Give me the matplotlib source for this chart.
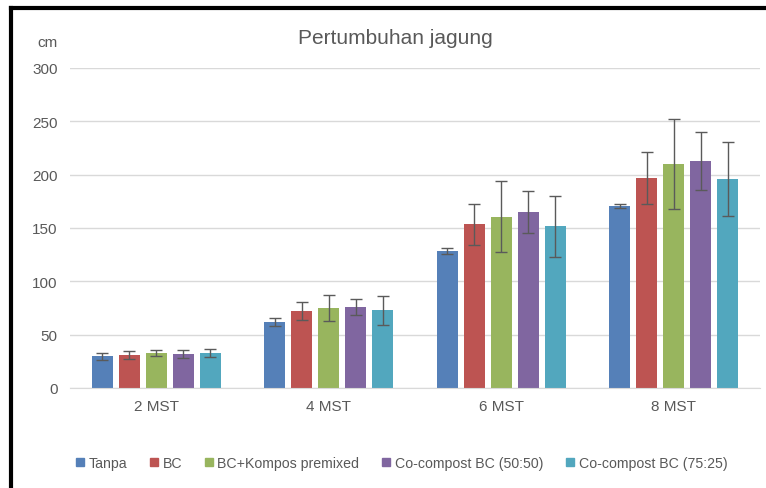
import matplotlib
matplotlib.use("Agg")
import matplotlib.pyplot as plt
import numpy as np
from matplotlib.lines import Line2D

plt.rcParams['font.family'] = ['Liberation Sans', 'DejaVu Sans']

categories = ["2 MST", "4 MST", "6 MST", "8 MST"]
series_names = ["Tanpa", "BC", "BC+Kompos premixed", "Co-compost BC (50:50)", "Co-compost BC (75:25)"]
tanpa = [29.6, 61.9, 128.1, 170.6]
bc = [30.6, 71.9, 153.4, 196.9]
bc_kompos = [32.8, 74.7, 160.6, 210.0]
cocomp_5050 = [31.9, 75.9, 164.7, 213.1]
cocomp_7525 = [32.8, 72.8, 151.5, 195.9]
err_tanpa = [3.3, 3.4, 2.8, 2.2]
err_bc = [3.7, 8.4, 19.2, 24.4]
err_bc_kompos = [3.0, 12.2, 33.3, 42.3]
err_5050 = [3.8, 7.3, 19.8, 27.2]
err_7525 = [4.2, 13.6, 28.6, 34.9]
yticks = [0, 50, 100, 150, 200, 250, 300]

values = [tanpa, bc, bc_kompos, cocomp_5050, cocomp_7525]
errors = [err_tanpa, err_bc, err_bc_kompos, err_5050, err_7525]
colors = ["#5580B8", "#BD5452", "#98B55E", "#8066A0", "#52A7BE"]

fig = plt.figure(figsize=(7.66, 4.89), dpi=100)
ax = fig.add_axes([70/766, 1 - 389/489, (760 - 70)/766, 320/489])

x = np.arange(len(categories))
step = 0.156
width = 0.122
for i, (vals, errs, c, name) in enumerate(zip(values, errors, colors, series_names)):
    pos = x + (i - 2) * step
    ax.bar(pos, vals, width=width, color=c, label=name, zorder=2)
    ax.errorbar(pos, vals, yerr=errs, fmt='none', ecolor='#5a5a5a', elinewidth=1.0,
                capsize=4, capthick=1.0, zorder=3)

ax.set_xlim(-0.5, 3.5)
ax.set_ylim(0, 300)
ax.set_yticks(yticks)
ax.set_xticks(x)
ax.set_xticklabels(categories)
ax.tick_params(axis='both', length=0, colors='#595959', labelsize=11)
ax.tick_params(axis='y', pad=9)
ax.tick_params(axis='x', pad=8)
ax.yaxis.grid(True, color='#d9d9d9', linewidth=1.0, zorder=0)
ax.set_axisbelow(True)
for s in ['top', 'right', 'left']:
    ax.spines[s].set_visible(False)
ax.spines['bottom'].set_color('#d9d9d9')

fig.text(395/766, 1 - 38/489, "Pertumbuhan jagung", ha='center', va='center', fontsize=15, color='#595959')
fig.text(47/766, 1 - 43/489, "cm", ha='center', va='center', fontsize=11, color='#595959')

handles = [Line2D([0], [0], marker='s', linestyle='none', markersize=6, markerfacecolor=c,
                  markeredgecolor=c) for c in colors]
fig.legend(handles, series_names, loc='center', bbox_to_anchor=(400/766, 1 - 464/489), ncol=5,
           frameon=False, fontsize=10.2, labelcolor='#595959', handletextpad=0.1,
           columnspacing=1.4, handlelength=1.0)

# black frame lines (top and left)
fig.add_artist(Line2D([11/766, 1], [1 - 9/489, 1 - 9/489], color='black', linewidth=3, transform=fig.transFigure))
fig.add_artist(Line2D([11/766, 11/766], [0, 1 - 9/489], color='black', linewidth=3, transform=fig.transFigure))

fig.savefig("out.png", dpi=100)
